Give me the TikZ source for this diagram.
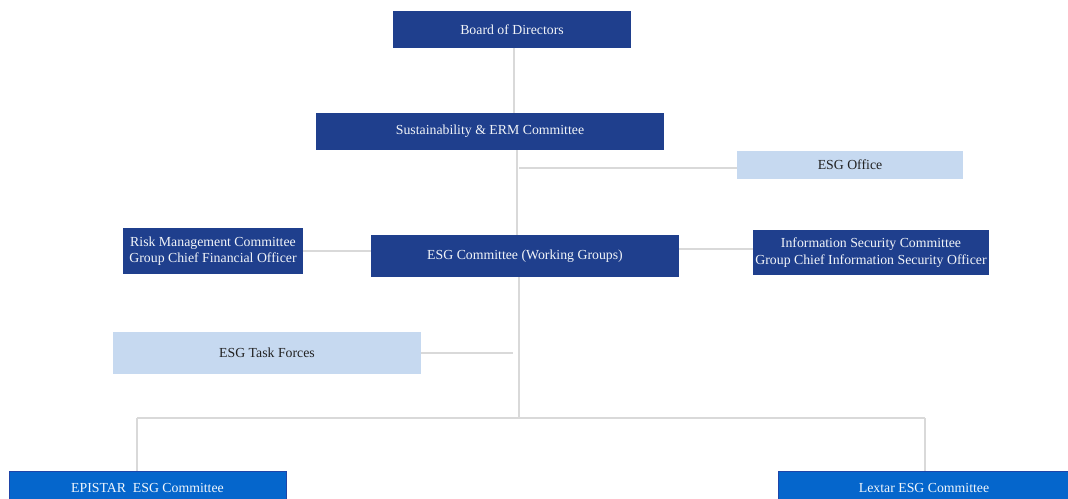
\documentclass[tikz,border=0pt]{standalone}
\usepackage{fontspec}
\setmainfont{Liberation Serif}
\usetikzlibrary{calc,backgrounds}
\definecolor{navy}{HTML}{1F3F8D}
\definecolor{royal}{HTML}{0566CC}
\definecolor{royaledge}{HTML}{1F45A8}
\definecolor{pale}{HTML}{C6D9F0}
\definecolor{wire}{HTML}{D9D9D9}
\definecolor{ink}{HTML}{222222}
\begin{document}
\begin{tikzpicture}[x=1pt,y=-1pt,
  box/.style={rectangle,inner sep=0pt,align=center,
    font=\fontsize{13.8}{16.5}\selectfont},
  darkbox/.style={box,fill=navy,text=white!94!navy},
  lightbox/.style={box,fill=pale,text=ink},
  unitbox/.style={box,fill=royal,draw=royaledge,line width=0.8pt,text=white!94!royal},
  link/.style={draw=wire,line width=2.6pt}]
\useasboundingbox (0,0) rectangle (1068,498);

% organisation units
\node[darkbox,minimum width=238pt,minimum height=37pt] (board) at (512,29.5) {Board of Directors};
\node[darkbox,minimum width=348pt,minimum height=37pt] (serm) at (490,131.5) {Sustainability \& ERM Committee};
\node[lightbox,minimum width=226pt,minimum height=28pt] (office) at (850,165) {ESG Office};
\node[darkbox,minimum width=308pt,minimum height=42pt] (esg) at (525,256) {ESG Committee (Working Groups)};
\node[darkbox,minimum width=180pt,minimum height=46pt] (risk) at (213,251) {Risk Management Committee\\Group Chief Financial Officer};
\node[darkbox,minimum width=236pt,minimum height=45pt] (infosec) at (871,252.5) {Information Security Committee\\Group Chief Information Security Officer};
\node[lightbox,minimum width=308pt,minimum height=42pt] (task) at (267,353) {ESG Task Forces};
\node[unitbox,minimum width=277pt,minimum height=34pt] (epistar) at (147.5,488) {EPISTAR\ \ ESG Committee};
\node[unitbox,minimum width=292pt,minimum height=34pt] (lextar) at (924,488) {Lextar ESG Committee};

% reference points on the spine
\coordinate (spineA) at (514,0);
\coordinate (spineB) at (517,0);
\coordinate (spineC) at (519,0);
\coordinate (taskend) at (513,353);
\coordinate (busL) at (137,418);
\coordinate (busR) at (925,418);

% connectors, kept behind the boxes
\begin{scope}[on background layer]
\path[link] (board.south -| spineA) -- (serm.north -| spineA);
\path[link] (serm.south -| spineB) -- (esg.north -| spineB);
\path[link] ($(spineC)+(0,168)$) -- ($(office.west)+(0,3)$);
\path[link] (risk.east) -- (risk.east -| esg.west);
\path[link] ($(esg.east)+(0,-7)$) -- ($(esg.east -| infosec.west)+(0,-7)$);
\path[link] (task.east) -- (taskend);
\path[link] (esg.south -| spineC) -- ($(spineC)+(0,418)$);
\path[link] (busL) -- (busR);
\path[link] (busL) -- (busL |- epistar.north);
\path[link] (busR) -- (busR |- lextar.north);
\end{scope}
\end{tikzpicture}
\end{document}
